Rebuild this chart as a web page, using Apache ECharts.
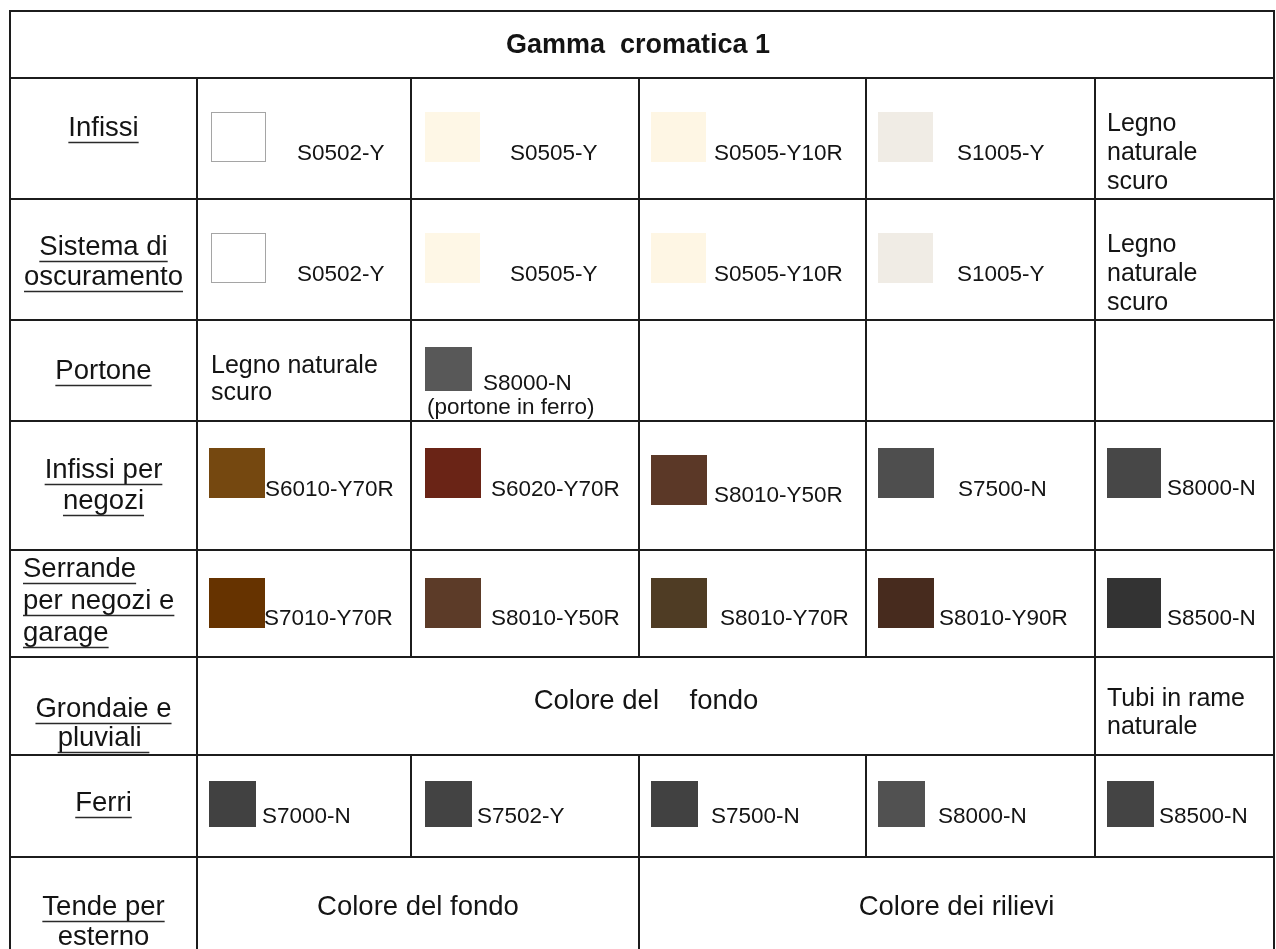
<!DOCTYPE html>
<html>
<head>
<meta charset="utf-8">
<script src="https://cdn.jsdelivr.net/npm/echarts@6/dist/echarts.min.js"></script>
<style>html,body{margin:0;padding:0;background:#fff}#main{width:1276px;height:949px}</style>
</head>
<body>
<div id="main"></div>
<script>
// ---------------- data ----------------
const titleText = 'Gamma  cromatica 1';
const rowLabels = ['Infissi', 'Sistema di\noscuramento', 'Portone', 'Infissi per\nnegozi', 'Serrande\nper negozi e\ngarage', 'Grondaie e\npluviali ', 'Ferri', 'Tende per\nesterno'];
const infissiCodes = ['S0502-Y', 'S0505-Y', 'S0505-Y10R', 'S1005-Y'];
const infissiColors = ['#ffffff', '#fef7e6', '#fef6e4', '#f0ece5'];
const oscuramentoCodes = ['S0502-Y', 'S0505-Y', 'S0505-Y10R', 'S1005-Y'];
const oscuramentoColors = ['#ffffff', '#fef7e6', '#fef6e4', '#f0ece5'];
const legnoText = 'Legno\nnaturale\nscuro';
const portoneWood = 'Legno naturale\nscuro';
const portoneCodes = ['S8000-N'];
const portoneColors = ['#585858'];
const portoneNote = '(portone in ferro)';
const negoziCodes = ['S6010-Y70R', 'S6020-Y70R', 'S8010-Y50R', 'S7500-N', 'S8000-N'];
const negoziColors = ['#754810', '#6a2416', '#5b3827', '#4e4e4e', '#474747'];
const serrandeCodes = ['S7010-Y70R', 'S8010-Y50R', 'S8010-Y70R', 'S8010-Y90R', 'S8500-N'];
const serrandeColors = ['#663300', '#5c3b28', '#4f3c24', '#472b1e', '#333333'];
const grondaieText = 'Colore del    fondo';
const rameText = 'Tubi in rame\nnaturale';
const ferriCodes = ['S7000-N', 'S7502-Y', 'S7500-N', 'S8000-N', 'S8500-N'];
const ferriColors = ['#414141', '#434343', '#414141', '#515151', '#444444'];
const tendeTexts = ['Colore del fondo', 'Colore dei rilievi'];

// ---------------- layout (table geometry, in axis units = px) ----------------
const colEdges = [0, 187, 401, 629, 856, 1085, 1264];
const rowEdges = [0, 67, 188, 309, 410, 539, 646, 744, 846, 960];
const VIEW_H = 938; // visible part of the table (rest is cut by the page edge)
const FAMILY = '"Liberation Sans", Arial, sans-serif';
const INK = '#141414';
const LINE = '#1c1c1c';

const swatchLayout = {
  1: {dx: [14, 14, 12, 12], dy: [34, 34, 34, 34], w: [55, 55, 55, 55], h: 50, tx: [100, 99, 75, 91], ty: [76, 76, 76, 76]},
  2: {dx: [14, 14, 12, 12], dy: [34, 34, 34, 34], w: [55, 55, 55, 55], h: 50, tx: [100, 99, 75, 91], ty: [76, 76, 76, 76]},
  3: {dx: [14], dy: [27], w: [47], h: 44, tx: [72], ty: [64], noteDx: 16, noteDy: 88},
  4: {dx: [12, 14, 12, 12, 12], dy: [27, 27, 34, 27, 27], w: [56, 56, 56, 56, 54], h: 50, tx: [68, 80, 75, 92, 72], ty: [69, 69, 75, 69, 68]},
  5: {dx: [12, 14, 12, 12, 12], dy: [28, 28, 28, 28, 28], w: [56, 56, 56, 56, 54], h: 50, tx: [67, 80, 81, 73, 72], ty: [69, 69, 69, 69, 69]},
  7: {dx: [12, 14, 12, 12, 12], dy: [26, 26, 26, 26, 26], w: [47, 47, 47, 47, 47], h: 46, tx: [65, 66, 72, 72, 64], ty: [62, 62, 62, 62, 62]}
};
const textLayout = {
  legno: {size: 25, dx: 12, dy: 46, lh: 29, align: 'left'},
  wood: {size: 25, dx: 14, dy: 46, lh: 27, align: 'left'},
  rame: {size: 25, dx: 12, dy: 42, lh: 28, align: 'left'},
  center6: {size: 27.5, dx: 0, dy: 44.5, lh: 30, align: 'center'},
  center8: {size: 27.5, dx: 0, dy: 50, lh: 30, align: 'center'}
};
const labelLayout = [
  {dy: 50.5, lh: 30, align: 'center'},
  {dy: 48.5, lh: 30, align: 'center'},
  {dy: 51, lh: 30, align: 'center'},
  {dy: 49, lh: 31, align: 'center'},
  {dy: 19, lh: 32, align: 'left', dx: 13},
  {dy: 52, lh: 29, align: 'center'},
  {dy: 48, lh: 30, align: 'center'},
  {dy: 50, lh: 30, align: 'center'}
];
const CODE_SIZE = 22.5, LABEL_SIZE = 27.5, TITLE_SIZE = 27;

// ---------------- build cells ----------------
const cells = [];
cells.push({r: 0, c0: 0, c1: 6, kind: 'title', text: titleText});
rowLabels.forEach((t, i) => cells.push({r: i + 1, c0: 0, c1: 1, kind: 'label', text: t, li: i}));
function addSwatches(r, codes, colors, startCol) {
  codes.forEach((c, i) => cells.push({r, c0: startCol + i, c1: startCol + i + 1, kind: 'swatch', code: c, color: colors[i], k: i}));
}
addSwatches(1, infissiCodes, infissiColors, 1);
cells.push({r: 1, c0: 5, c1: 6, kind: 'text', text: legnoText, st: 'legno'});
addSwatches(2, oscuramentoCodes, oscuramentoColors, 1);
cells.push({r: 2, c0: 5, c1: 6, kind: 'text', text: legnoText, st: 'legno'});
cells.push({r: 3, c0: 1, c1: 2, kind: 'text', text: portoneWood, st: 'wood'});
addSwatches(3, portoneCodes, portoneColors, 2);
cells[cells.length - 1].note = portoneNote;
[3, 4, 5].forEach(c => cells.push({r: 3, c0: c, c1: c + 1, kind: 'empty'}));
addSwatches(4, negoziCodes, negoziColors, 1);
addSwatches(5, serrandeCodes, serrandeColors, 1);
cells.push({r: 6, c0: 1, c1: 5, kind: 'text', text: grondaieText, st: 'center6'});
cells.push({r: 6, c0: 5, c1: 6, kind: 'text', text: rameText, st: 'rame'});
addSwatches(7, ferriCodes, ferriColors, 1);
cells.push({r: 8, c0: 1, c1: 3, kind: 'text', text: tendeTexts[0], st: 'center8'});
cells.push({r: 8, c0: 3, c1: 6, kind: 'text', text: tendeTexts[1], st: 'center8'});

const measureCtx = document.createElement('canvas').getContext('2d');
function textWidth(t, size, weight) {
  measureCtx.font = (weight || 'normal') + ' ' + size + 'px ' + FAMILY;
  return measureCtx.measureText(t).width;
}
function txt(x, y, t, size, align, weight) {
  return {type: 'text', x: x, y: y, style: {text: t, fill: INK, fontSize: size, fontFamily: FAMILY, fontWeight: weight || 'normal', align: align, verticalAlign: 'middle'}};
}

function renderItem(params, api) {
  const cell = cells[params.dataIndex];
  const tl = api.coord([api.value(0), api.value(2)]);
  const br = api.coord([api.value(1), api.value(3)]);
  const x0 = tl[0], y0 = tl[1], x1 = br[0], y1 = br[1];
  const ch = [];
  if (cell.kind === 'title') {
    ch.push(txt((x0 + x1) / 2 - 4, y0 + 35, cell.text, TITLE_SIZE, 'center', 'bold'));
  } else if (cell.kind === 'label') {
    const L = labelLayout[cell.li];
    cell.text.split('\n').forEach((line, i) => {
      const y = y0 + L.dy + i * L.lh;
      const w = textWidth(line, LABEL_SIZE);
      let xs, xe, tx;
      if (L.align === 'left') { tx = x0 + L.dx; xs = tx; xe = tx + w; }
      else { tx = (x0 + x1) / 2; xs = tx - w / 2; xe = tx + w / 2; }
      ch.push(txt(tx, y, line, LABEL_SIZE, L.align));
      const uy = Math.round(y + 13.5) + 0.5;
      ch.push({type: 'line', shape: {x1: xs, y1: uy, x2: xe, y2: uy}, style: {stroke: '#2a2a2a', lineWidth: 1.5}});
    });
  } else if (cell.kind === 'swatch') {
    const S = swatchLayout[cell.r];
    const k = cell.k;
    const isWhite = cell.color.toLowerCase() === '#ffffff';
    ch.push(isWhite
      ? {type: 'rect', shape: {x: x0 + S.dx[k] + 0.5, y: y0 + S.dy[k] + 0.5, width: S.w[k] - 1, height: S.h - 1},
         style: {fill: '#ffffff', stroke: '#4a4a4a', lineWidth: 1, lineDash: [1, 1]}}
      : {type: 'rect', shape: {x: x0 + S.dx[k], y: y0 + S.dy[k], width: S.w[k], height: S.h},
         style: {fill: cell.color}});
    ch.push(txt(x0 + S.tx[k], y0 + S.ty[k], cell.code, CODE_SIZE, 'left'));
    if (cell.note) ch.push(txt(x0 + S.noteDx, y0 + S.noteDy, cell.note, CODE_SIZE, 'left'));
  } else if (cell.kind === 'text') {
    const T = textLayout[cell.st];
    cell.text.split('\n').forEach((line, i) => {
      const tx = T.align === 'left' ? x0 + T.dx : (x0 + x1) / 2 + T.dx;
      ch.push(txt(tx, y0 + T.dy + i * T.lh, line, T.size, T.align));
    });
  }
  ch.push({type: 'rect', shape: {x: x0, y: y0, width: x1 - x0, height: y1 - y0}, style: {fill: 'none', stroke: LINE, lineWidth: 2}, z2: 10});
  return {type: 'group', children: ch};
}

const chart = echarts.init(document.getElementById('main'), null, {renderer: 'canvas'});
chart.setOption({
  animation: false,
  backgroundColor: '#ffffff',
  grid: {left: 10, top: 11, width: colEdges[colEdges.length - 1], height: VIEW_H, outerBoundsMode: 'none', containLabel: false},
  xAxis: {type: 'value', min: 0, max: colEdges[colEdges.length - 1], show: false},
  yAxis: {type: 'value', min: 0, max: VIEW_H, inverse: true, show: false},
  series: [{
    type: 'custom',
    coordinateSystem: 'cartesian2d',
    clip: false,
    encode: {x: [0, 1], y: [2, 3]},
    data: cells.map(c => [colEdges[c.c0], colEdges[c.c1], rowEdges[c.r], rowEdges[c.r + 1]]),
    renderItem: renderItem
  }]
});
</script>
</body>
</html>
